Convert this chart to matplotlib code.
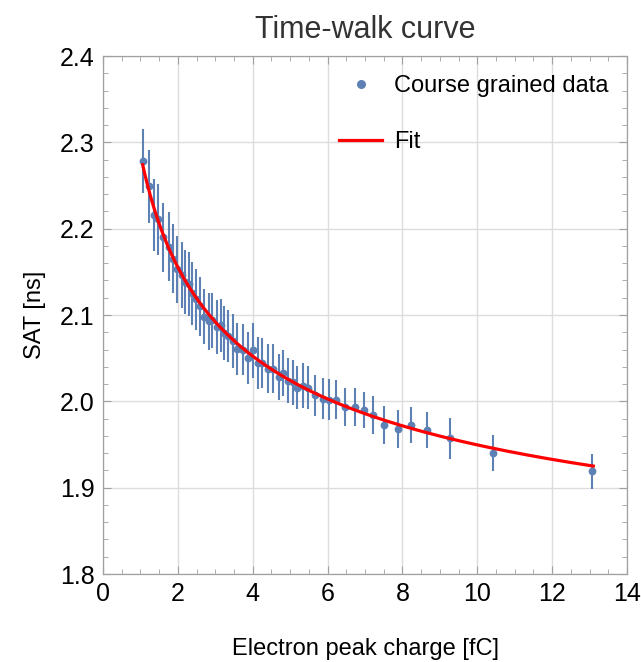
import numpy as np
import matplotlib
matplotlib.use("Agg")
import matplotlib.pyplot as plt
from matplotlib.ticker import MultipleLocator
from matplotlib.lines import Line2D

plt.rcParams['font.family'] = ['Liberation Sans', 'DejaVu Sans']

# Coarse-grained data
charge = [1.06, 1.22, 1.35, 1.47, 1.60, 1.75, 1.87, 1.99, 2.11, 2.20, 2.29, 2.38, 2.49,
          2.60, 2.71, 2.82, 2.92, 3.05, 3.15, 3.24, 3.35, 3.48, 3.58, 3.73, 3.87, 4.01,
          4.14, 4.26, 4.42, 4.55, 4.69, 4.82, 4.95, 5.07, 5.19, 5.33, 5.48, 5.67, 5.87,
          6.03, 6.23, 6.46, 6.73, 6.96, 7.21, 7.51, 7.87, 8.23, 8.65, 9.27, 10.42, 13.06]
sat = [2.278, 2.249, 2.216, 2.211, 2.190, 2.179, 2.165, 2.153, 2.146, 2.138, 2.136, 2.125, 2.118,
       2.110, 2.098, 2.093, 2.094, 2.086, 2.088, 2.079, 2.076, 2.070, 2.061, 2.060, 2.050, 2.059,
       2.044, 2.044, 2.038, 2.038, 2.028, 2.033, 2.024, 2.022, 2.016, 2.018, 2.016, 2.007, 2.003,
       2.002, 2.002, 1.993, 1.994, 1.990, 1.984, 1.973, 1.968, 1.973, 1.967, 1.957, 1.940, 1.919]
sat_err = [0.037, 0.042, 0.042, 0.041, 0.040, 0.040, 0.040, 0.039, 0.038, 0.037, 0.037, 0.036, 0.035,
           0.034, 0.032, 0.033, 0.032, 0.031, 0.031, 0.031, 0.030, 0.031, 0.030, 0.030, 0.030, 0.032,
           0.030, 0.029, 0.028, 0.028, 0.027, 0.027, 0.026, 0.026, 0.025, 0.026, 0.025, 0.024, 0.024,
           0.024, 0.023, 0.022, 0.022, 0.021, 0.022, 0.022, 0.022, 0.021, 0.021, 0.024, 0.021, 0.020]

# Fit model: a + b * x^(-c)
fit_a, fit_b, fit_c = 1.6777, 0.6086, 0.35
fit_range = (1.06, 13.1)

blue = '#5E81B5'
red = '#FF0000'

fig = plt.figure(figsize=(6.41, 6.62), dpi=100)
ax = fig.add_axes([0.1607, 0.1329, 0.8175, 0.7825])

ax.errorbar(charge, sat, yerr=sat_err, fmt='o', color=blue, ms=4.6, elinewidth=1.5,
            capsize=0, zorder=3)
xf = np.linspace(fit_range[0], fit_range[1], 400)
ax.plot(xf, fit_a + fit_b * xf ** (-fit_c), color=red, lw=2.3, zorder=4)

ax.set_xlim(0, 14)
ax.set_ylim(1.8, 2.4)
ax.xaxis.set_major_locator(MultipleLocator(2))
ax.xaxis.set_minor_locator(MultipleLocator(0.5))
ax.yaxis.set_major_locator(MultipleLocator(0.1))
ax.yaxis.set_minor_locator(MultipleLocator(0.02))
ax.yaxis.set_major_formatter(matplotlib.ticker.FormatStrFormatter('%.1f'))

ax.grid(True, which='major', color='#DCDCDC', lw=1.0, zorder=0)
ax.set_axisbelow(True)
for s in ax.spines.values():
    s.set_color('#A0A0A0')
    s.set_linewidth(0.9)
ax.tick_params(which='both', direction='in', top=True, right=True, color='#A0A0A0',
               labelsize=18, labelcolor='black')
ax.tick_params(which='major', length=6, width=0.8, pad=6)
ax.tick_params(which='minor', length=3.5, width=0.6)

ax.set_xlabel('Electron peak charge [fC]', fontsize=17, labelpad=23)
ax.set_ylabel('SAT [ns]', fontsize=17, labelpad=10)
ax.set_title('Time-walk curve', fontsize=22, color='#333333', pad=13)

handles = [Line2D([], [], ls='none', marker='o', ms=5.5, color=blue),
           Line2D([], [], color=red, lw=2.3)]
labels = ['Course grained data', 'Fit']
ax.legend(handles, labels, loc='upper right', frameon=False, fontsize=17, labelspacing=1.45,
          handlelength=1.8, handletextpad=0.5, borderaxespad=0.4)

fig.savefig('out.png', dpi=100)
